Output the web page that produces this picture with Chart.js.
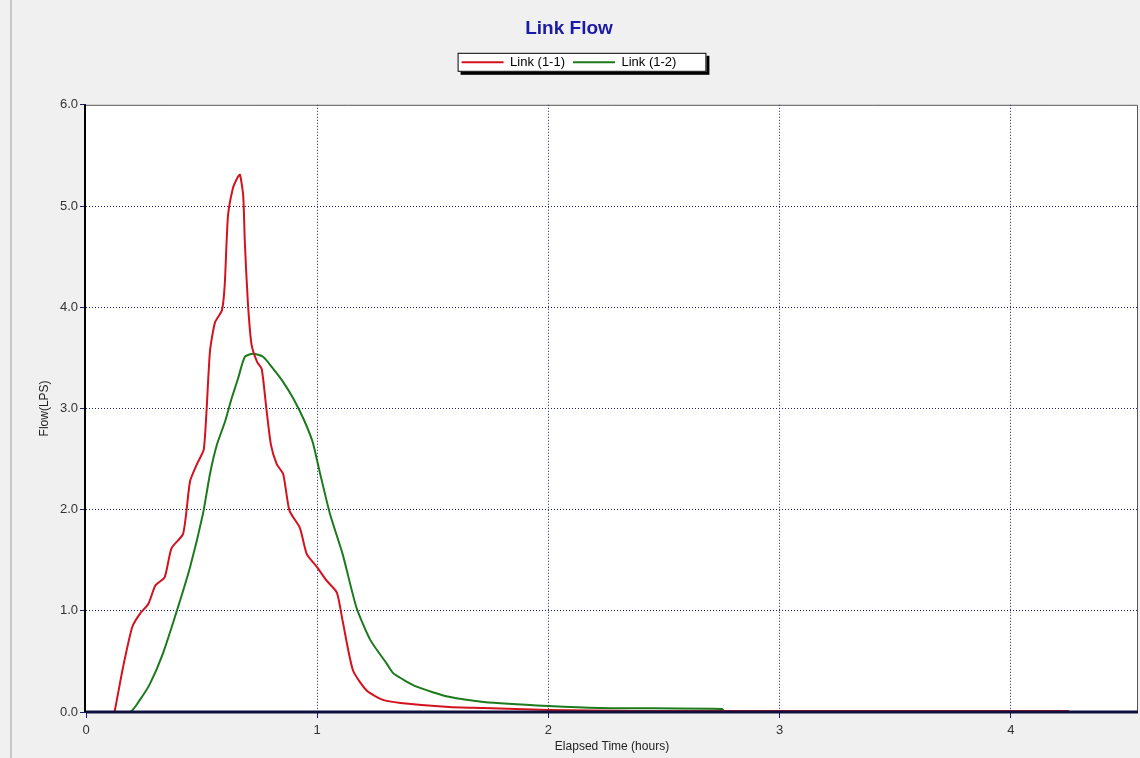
<!DOCTYPE html>
<html>
<head>
<meta charset="utf-8">
<script src="https://cdn.jsdelivr.net/npm/chart.js@4.4.1/dist/chart.umd.min.js"></script>
<style>
  html, body { margin: 0; padding: 0; background: #f0f0f0; }
  #wrap { width: 1140px; height: 758px; }
</style>
</head>
<body>
<div id="wrap"><canvas id="flowChart" width="1140" height="758"></canvas></div>
<script>
// Link (1-1)
var hours11 = [0, 0.12, 0.125, 0.16, 0.2, 0.233, 0.27, 0.30, 0.34, 0.37, 0.42, 0.45, 0.48, 0.51,
  0.536, 0.558, 0.588, 0.60, 0.614, 0.636, 0.655, 0.666, 0.68, 0.687, 0.70, 0.716, 0.74, 0.76, 0.78,
  0.80, 0.825, 0.853, 0.88, 0.925, 0.955, 1.0, 1.04, 1.085, 1.11, 1.155, 1.215, 1.284, 1.36,
  1.57, 1.72, 2.0, 2.37, 4.25];
var flow11 = [0, 0, 0.02, 0.44, 0.84, 0.97, 1.07, 1.25, 1.33, 1.62, 1.76, 2.28, 2.45, 2.6,
  3.56, 3.85, 3.97, 4.22, 4.9, 5.18, 5.28, 5.31, 5.10, 4.64, 4.05, 3.63, 3.46, 3.39, 3.0,
  2.64, 2.45, 2.35, 1.99, 1.82, 1.56, 1.43, 1.30, 1.18, 0.90, 0.41, 0.21, 0.12, 0.09,
  0.05, 0.04, 0.02, 0.01, 0.01];

// Link (1-2)
var hours12 = [0, 0.19, 0.233, 0.277, 0.333, 0.393, 0.45, 0.506, 0.536, 0.566, 0.60, 0.63,
  0.657, 0.687, 0.722, 0.766, 0.81, 0.853, 0.896, 0.94, 0.98, 1.01, 1.055, 1.11, 1.17, 1.23,
  1.30, 1.33, 1.43, 1.57, 1.72, 2.0, 2.22, 2.75, 2.76, 4.25];
var flow12 = [0, 0, 0.12, 0.28, 0.58, 1.0, 1.43, 1.96, 2.35, 2.64, 2.86, 3.10,
  3.29, 3.51, 3.54, 3.51, 3.39, 3.26, 3.10, 2.90, 2.67, 2.38, 1.96, 1.56, 1.03, 0.71,
  0.48, 0.38, 0.25, 0.15, 0.10, 0.06, 0.04, 0.03, 0.01, 0.01];

var seriesNames = ["Link (1-1)", "Link (1-2)"];
var yTicks = [0, 1, 2, 3, 4, 5, 6];
var xTicks = [0, 1, 2, 3, 4];

var FONT = 'Liberation Sans, Arial, sans-serif';
var GRID = '#1c1c6c';

function pairs(xs, ys) {
  var out = [];
  for (var i = 0; i < xs.length; i++) out.push({x: xs[i], y: ys[i]});
  return out;
}

var frame = {
  id: 'frame',
  beforeInit: function(chart) {
    // extra room under the legend, as in the original window
    var fit = chart.legend.fit;
    chart.legend.fit = function() {
      fit.call(this);
      this.height += 26;
    };
  },
  beforeDraw: function(chart) {
    var c = chart.ctx, a = chart.chartArea;
    c.save();
    c.fillStyle = '#f0f0f0';
    c.fillRect(0, 0, chart.width, chart.height);
    c.strokeStyle = '#c8c8c8';
    c.lineWidth = 2;
    c.beginPath(); c.moveTo(11, 0); c.lineTo(11, chart.height); c.stroke();
    c.fillStyle = '#ffffff';
    c.fillRect(a.left, a.top, a.right - a.left, a.bottom - a.top);
    c.restore();
  },
  afterDraw: function(chart) {
    var c = chart.ctx, a = chart.chartArea;
    c.save();
    c.strokeStyle = '#555';
    c.lineWidth = 1;
    c.beginPath();
    c.moveTo(a.left, a.top + 0.5); c.lineTo(a.right - 0.5, a.top + 0.5); c.lineTo(a.right - 0.5, a.bottom);
    c.stroke();
    c.strokeStyle = '#000';
    c.lineWidth = 2;
    c.beginPath(); c.moveTo(a.left - 1, a.top); c.lineTo(a.left - 1, a.bottom); c.stroke();
    c.strokeStyle = '#101040';
    c.lineWidth = 3;
    c.beginPath(); c.moveTo(a.left, a.bottom); c.lineTo(a.right, a.bottom); c.stroke();
    // legend box with shadow
    var boxes = chart.legend.legendHitBoxes;
    if (boxes && boxes.length) {
      var l = boxes[0].left - 4, t = boxes[0].top - 3;
      var last = boxes[boxes.length - 1];
      var r = last.left + last.width + 30, b = boxes[0].top + boxes[0].height + 3;
      c.fillStyle = '#000';
      c.fillRect(l + 3, t + 3, r - l, b - t);
      c.fillStyle = '#fff';
      c.fillRect(l, t, r - l, b - t);
      c.strokeStyle = '#000';
      c.lineWidth = 1;
      c.strokeRect(l + 0.5, t + 0.5, r - l - 1, b - t - 1);
    }
    c.restore();
  }
};

// redraw legend items above the box
var legendOnTop = {
  id: 'legendOnTop',
  afterDraw: function(chart) { chart.legend.draw(); }
};

var ctx = document.getElementById("flowChart");
var flowChart = new Chart(ctx, {
  type: 'line',
  data: {
    datasets: [{
      label: seriesNames[0],
      data: pairs(hours11, flow11),
      borderColor: '#d4121e',
      backgroundColor: '#d4121e',
      borderWidth: 2,
      pointRadius: 0,
      tension: 0.2
    }, {
      label: seriesNames[1],
      data: pairs(hours12, flow12),
      borderColor: '#1c7a1c',
      backgroundColor: '#1c7a1c',
      borderWidth: 2,
      pointRadius: 0,
      tension: 0.2
    }]
  },
  options: {
    responsive: false,
    animation: false,
    layout: { padding: { left: 0, right: 2, top: 13, bottom: 0 } },
    plugins: {
      title: {
        display: true,
        text: 'Link Flow',
        color: '#1a1aa8',
        font: { family: FONT, size: 19, weight: 'bold' },
        padding: { top: 4, bottom: 8 }
      },
      legend: {
        display: true,
        labels: {
          usePointStyle: true,
          pointStyle: 'line',
          pointStyleWidth: 42,
          boxWidth: 42,
          boxHeight: 2,
          color: '#000',
          font: { family: FONT, size: 13 },
          padding: 8
        }
      },
      tooltip: { enabled: false }
    },
    scales: {
      x: {
        type: 'linear',
        min: 0,
        max: 4.55,
        afterBuildTicks: function(s) { s.ticks = xTicks.map(function(v) { return {value: v}; }); },
        afterFit: function(s) { s.height = 46; },
        border: { display: false, dash: [1, 2] },
        grid: {
          color: function(c) { return (c.tick && c.tick.value > 0) ? GRID : 'rgba(0,0,0,0)'; },
          tickColor: GRID,
          tickLength: 6,
          lineWidth: 1
        },
        ticks: {
          color: '#333',
          font: { family: FONT, size: 13 },
          padding: 5,
          maxRotation: 0,
          callback: function(v) { return v; }
        },
        title: {
          display: true,
          text: 'Elapsed Time (hours)',
          color: '#222',
          font: { family: FONT, size: 12 },
          padding: { top: 0, bottom: 4 }
        }
      },
      y: {
        min: 0,
        max: 6,
        afterBuildTicks: function(s) { s.ticks = yTicks.map(function(v) { return {value: v}; }); },
        afterFit: function(s) { s.width = 86; },
        border: { display: false, dash: [1, 2] },
        grid: {
          color: function(c) { return (c.tick && c.tick.value > 0 && c.tick.value < 6) ? GRID : 'rgba(0,0,0,0)'; },
          tickColor: GRID,
          tickLength: 6,
          lineWidth: 1
        },
        ticks: {
          color: '#333',
          font: { family: FONT, size: 13 },
          padding: 2,
          callback: function(v) { return v.toFixed(1); }
        },
        title: {
          display: true,
          text: 'Flow(LPS)',
          color: '#222',
          font: { family: FONT, size: 12 },
          padding: { top: 37, bottom: 0 }
        }
      }
    }
  },
  plugins: [frame, legendOnTop]
});
</script>
</body>
</html>
